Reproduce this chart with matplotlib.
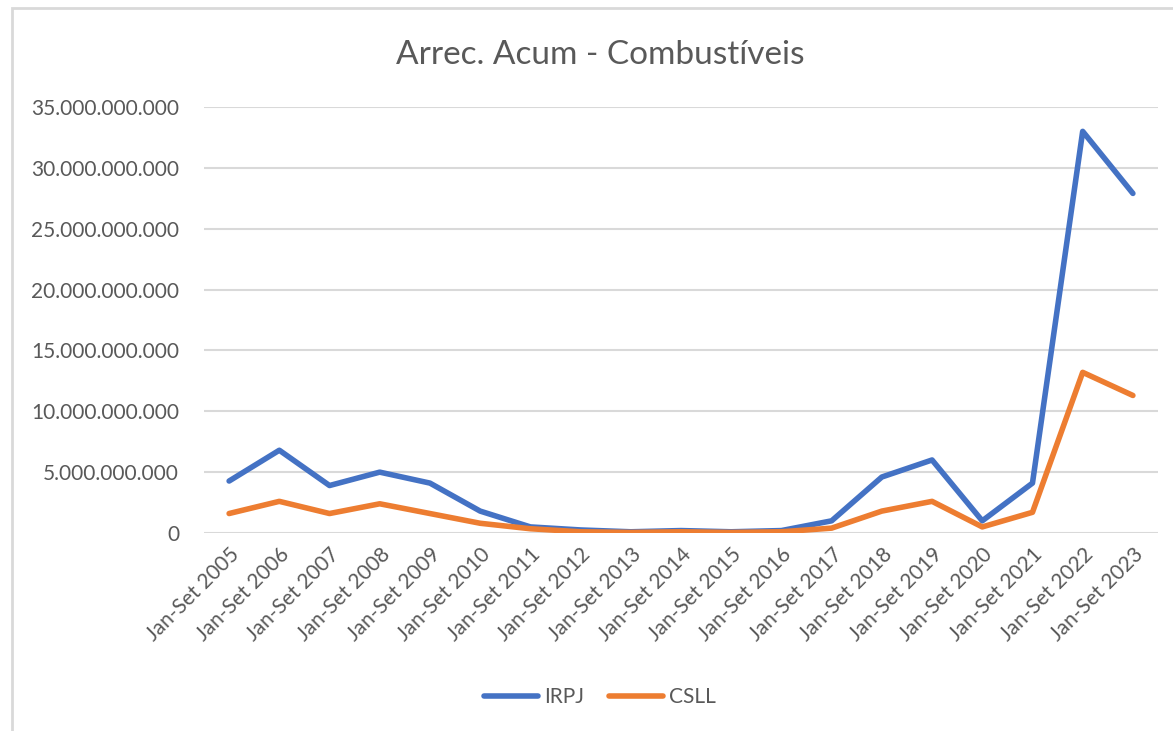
import matplotlib.pyplot as plt
from matplotlib.patches import Rectangle
from matplotlib.ticker import FuncFormatter

years = list(range(2005, 2024))
labels = [f"Jan-Set {y}" for y in years]

# values in R$
irpj = [4.27e9, 6.8e9, 3.9e9, 5.0e9, 4.1e9, 1.8e9, 0.5e9, 0.25e9, 0.1e9, 0.2e9,
        0.1e9, 0.2e9, 1.0e9, 4.6e9, 6.0e9, 1.0e9, 4.1e9, 33.0e9, 27.9e9]
csll = [1.6e9, 2.6e9, 1.6e9, 2.4e9, 1.6e9, 0.8e9, 0.35e9, 0.1e9, 0.05e9, 0.1e9,
        0.05e9, 0.1e9, 0.4e9, 1.8e9, 2.6e9, 0.5e9, 1.7e9, 13.2e9, 11.3e9]

plt.rcParams["font.family"] = ["Lato", "DejaVu Sans"]
grey = "#595959"

fig = plt.figure(figsize=(11.73, 7.31), dpi=100)
fig.patches.append(Rectangle((12 / 1173, -0.1), 1.2, 1.1 - 8 / 731,
                             transform=fig.transFigure, fill=False,
                             edgecolor="#d9d9d9", linewidth=2))

ax = fig.add_axes([204 / 1173, 1 - 533 / 731, 954 / 1173, 426 / 731])
x = range(len(labels))
ax.plot(x, irpj, color="#4472c4", linewidth=4, solid_capstyle="round", label="IRPJ")
ax.plot(x, csll, color="#ed7d31", linewidth=4, solid_capstyle="round", label="CSLL")

ax.set_xlim(-0.5, len(labels) - 0.5)
ax.set_ylim(0, 35e9)
ax.set_yticks([i * 5e9 for i in range(8)])
ax.yaxis.set_major_formatter(FuncFormatter(lambda v, p: f"{v:,.0f}".replace(",", ".")))
ax.set_xticks(list(x))
ax.set_xticklabels(labels, rotation=45, ha="right", rotation_mode="anchor")
ax.tick_params(axis="both", length=0, labelsize=15, colors=grey)
ax.tick_params(axis="y", pad=18)
ax.tick_params(axis="x", pad=8)
ax.grid(axis="y", color="#d9d9d9", linewidth=1.5)
ax.set_axisbelow(True)
for s in ax.spines.values():
    s.set_visible(False)

fig.text(600 / 1173, 1 - 55 / 731, "Arrec. Acum - Combustíveis", ha="center", va="center",
         fontsize=24, color=grey)
fig.legend(loc="center", bbox_to_anchor=(600 / 1173, 1 - 697 / 731), ncol=2, frameon=False,
           fontsize=15, labelcolor=grey, handlelength=2.6, columnspacing=1.2, handletextpad=0.3)

fig.savefig("out.png", dpi=100)
